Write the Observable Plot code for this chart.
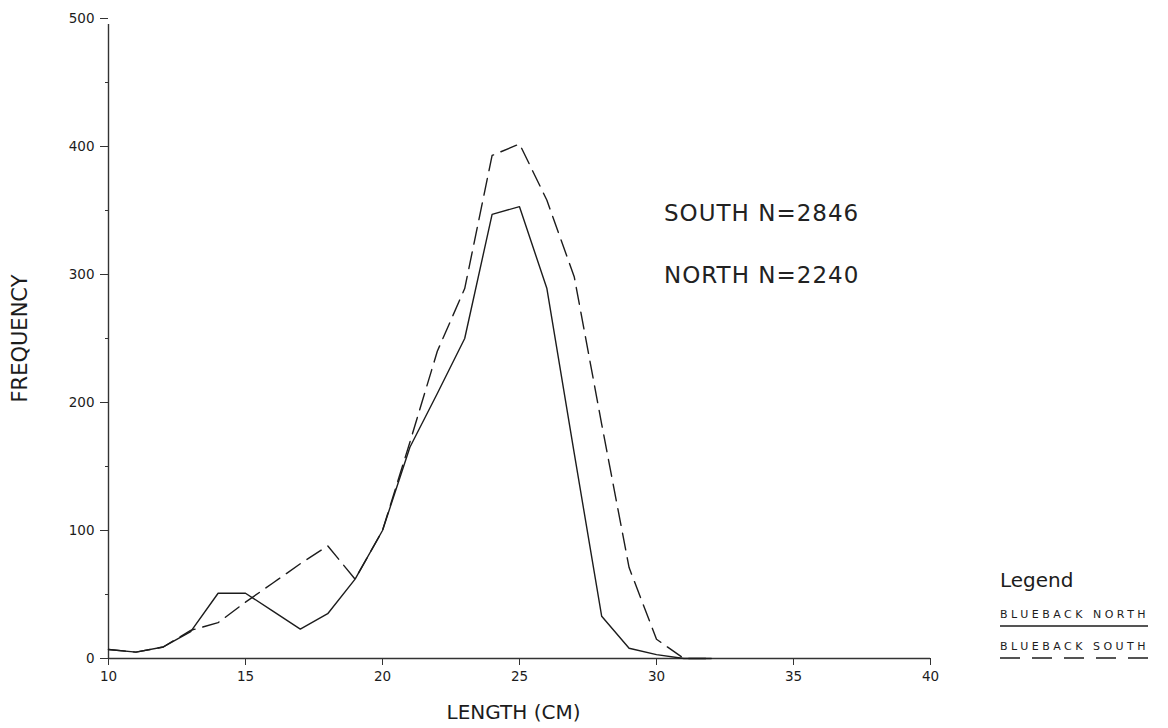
<!DOCTYPE html>
<html>
<head>
<meta charset="utf-8">
<script src="https://cdn.jsdelivr.net/npm/d3@7"></script>
<script src="https://cdn.jsdelivr.net/npm/@observablehq/plot@0.6"></script>
<style>
  html, body { margin: 0; padding: 0; background: #fff; }
  #wrap { position: relative; width: 1168px; height: 728px; font-family: "DejaVu Sans", sans-serif; color: #1a1a1a; }
  .note { position: absolute; font-family: "DejaVu Sans", sans-serif; font-size: 23px; letter-spacing: 1px; color: #222; white-space: nowrap; }
  #legend { position: absolute; left: 996px; top: 560px; }
</style>
</head>
<body>
<div id="wrap"></div>
<script>
// Data
const lengths = [10,11,12,13,14,15,16,17,18,19,20,21,22,23,24,25,26,27,28,29,30,31,32];
const north   = [7,5,9,21,51,51,37,23,35,62,100,165,207,250,347,353,289,160,33,8,3,0,0];
const south   = [7,5,9,22,28,44,59,74,88,62,100,169,240,289,393,402,358,298,183,71,15,0,0];
const xTicks = [10,15,20,25,30,35,40];
const yTicks = [0,100,200,300,400,500];
const yMinor = [50,150,250,350,450];
const seriesNames = ["BLUEBACK NORTH", "BLUEBACK SOUTH"];
const notes = ["SOUTH N=2846", "NORTH N=2240"];

const northRows = lengths.map((x, i) => ({x, y: north[i]}));
const southRows = lengths.map((x, i) => ({x, y: south[i]}));

const ink = "#1c1c1c";

const chart = Plot.plot({
  width: 1168,
  height: 728,
  marginLeft: 108,
  marginRight: 238,
  marginTop: 18,
  marginBottom: 70,
  style: { fontFamily: "DejaVu Sans, sans-serif", fontSize: "13px", color: ink, background: "#fff" },
  x: { domain: [10, 40] },
  y: { domain: [0, 500] },
  marks: [
    Plot.ruleX([10], { y1: 0, y2: 500, stroke: "#333", strokeWidth: 1.4, insetBottom: -6 }),
    Plot.ruleY([0], { x1: 10, x2: 40, stroke: "#333", strokeWidth: 1.4 }),
    Plot.axisY({ ticks: yTicks, tickSize: 8, tickPadding: 6, label: null, stroke: "#333", fontSize: 13.5 }),
    Plot.axisY({ ticks: yMinor, tickSize: 3, text: null, label: null, stroke: "#333" }),
    Plot.axisX({ ticks: xTicks, tickSize: 7, tickPadding: 6, label: null, stroke: "#333", fontSize: 13.5 }),
    Plot.line(northRows, { x: "x", y: "y", stroke: ink, strokeWidth: 1.4 }),
    Plot.line(southRows, { x: "x", y: "y", stroke: ink, strokeWidth: 1.4, strokeDasharray: "17,8" }),
    Plot.text(["FREQUENCY"], { frameAnchor: "left", dx: -88, rotate: -90, textAnchor: "middle", fontSize: 21, fill: ink, style: "letter-spacing:1.2px" }),
    Plot.text(["LENGTH (CM)"], { frameAnchor: "bottom", dx: -6, dy: 60, fontSize: 20, fill: ink })
  ]
});

const wrap = document.getElementById("wrap");
wrap.appendChild(chart);

// Annotations
const n1 = document.createElement("div");
n1.className = "note"; n1.style.left = "664px"; n1.style.top = "200px"; n1.textContent = notes[0];
const n2 = document.createElement("div");
n2.className = "note"; n2.style.left = "664px"; n2.style.top = "262px"; n2.textContent = notes[1];
wrap.appendChild(n1); wrap.appendChild(n2);

// Legend
const leg = d3.create("svg").attr("id", "legend").attr("width", 165).attr("height", 105);
leg.append("text").attr("x", 4).attr("y", 27).attr("font-size", 20).attr("font-family", "DejaVu Sans, sans-serif").attr("fill", ink).text("Legend");
const rows = [
  { name: seriesNames[0], dash: null },
  { name: seriesNames[1], dash: "20,12" }
];
rows.forEach((r, i) => {
  const y0 = 58 + i * 32;
  leg.append("text").attr("x", 4).attr("y", y0).attr("font-size", 11).attr("letter-spacing", 3.5)
    .attr("font-family", "DejaVu Sans, sans-serif").attr("fill", ink).text(r.name);
  leg.append("line").attr("x1", 4).attr("x2", 152).attr("y1", y0 + 8).attr("y2", y0 + 8)
    .attr("stroke", ink).attr("stroke-width", 1.4).attr("stroke-dasharray", r.dash);
});
wrap.appendChild(leg.node());
</script>
</body>
</html>
